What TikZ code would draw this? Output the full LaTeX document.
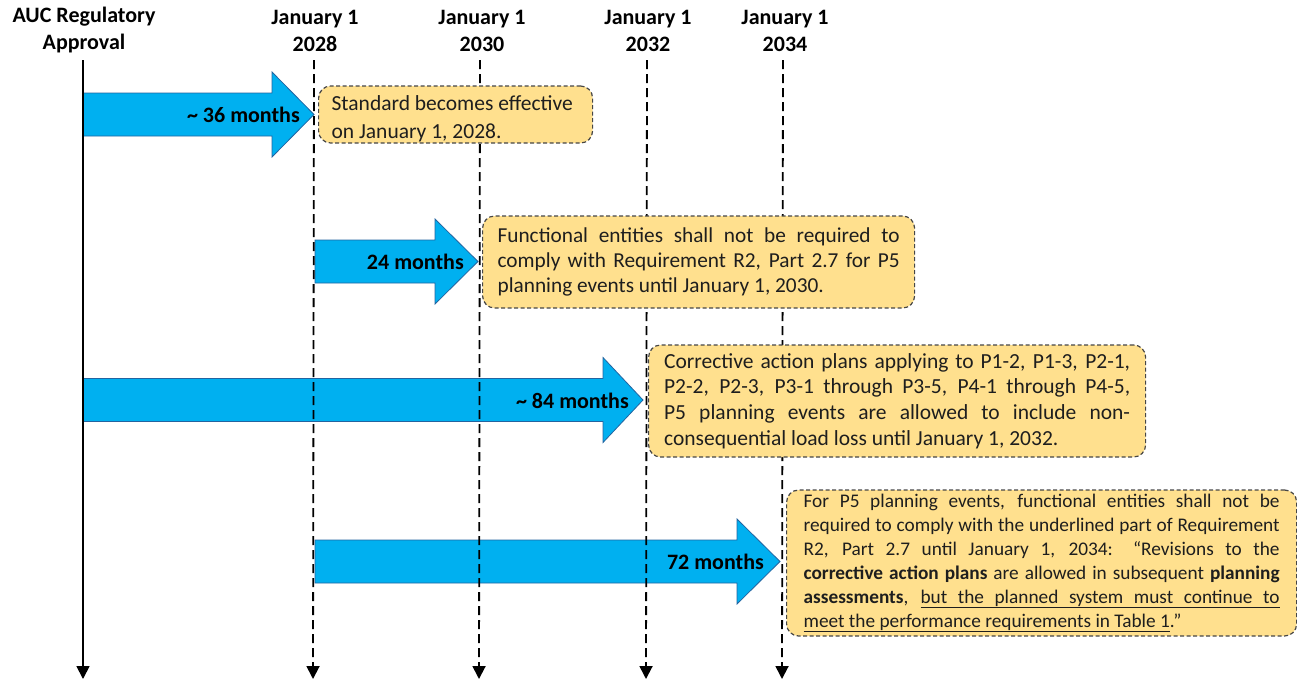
\documentclass[tikz,border=0pt]{standalone}
\usepackage{fontspec}
\setmainfont{Carlito}
\usetikzlibrary{arrows.meta}
\definecolor{arrowblue}{RGB}{0,176,240}
\definecolor{arrowedge}{RGB}{35,100,160}
\definecolor{boxfill}{RGB}{255,224,142}
\definecolor{boxedge}{RGB}{70,70,70}
\definecolor{txt}{RGB}{30,30,30}
\newcommand\bluearrow[4]{%
  \path[barrow] (#1,#4-21.5) -- (#2,#4-21.5) -- (#2,#4-42.5) -- (#3,#4)
    -- (#2,#4+42.5) -- (#2,#4+21.5) -- (#1,#4+21.5) -- cycle;}
\newcommand\ulw[1]{\setbox0\hbox{#1}\rlap{\vrule height -3pt depth 4pt width \wd0}\box0}
\newcommand\uls{\leaders\vrule height -3pt depth 4pt\hskip\fontdimen2\font plus\fontdimen3\font minus\fontdimen4\font\relax}
\begin{document}
\begin{tikzpicture}[x=1pt,y=-1pt,
  hdr/.style={font=\fontsize{22}{27}\selectfont\bfseries, align=center, inner sep=0pt},
  vline/.style={line width=1.8pt, -{Triangle[length=13pt,width=13pt]}},
  dline/.style={vline, dash pattern=on 9pt off 5pt},
  barrow/.style={fill=arrowblue, draw=arrowedge, line width=0.8pt, line join=miter},
  mlabel/.style={font=\fontsize{22}{26}\selectfont\bfseries, anchor=east, inner sep=0pt},
  note/.style={fill=boxfill, draw=boxedge, line width=1.2pt, dash pattern=on 4pt off 2.5pt,
    rounded corners=12pt, align=justify, text=txt, anchor=west, inner ysep=0pt}
]
\useasboundingbox (0,0) rectangle (1297,681);

% blue duration arrows
\bluearrow{83}{272}{314}{114.5}
\bluearrow{315}{435}{478}{261.5}
\bluearrow{83}{603}{643}{400}
\bluearrow{315}{737}{780}{561.5}

% time lines
\coordinate (t0) at (83,60);  \coordinate (b0) at (83,679);
\coordinate (t1) at (314,60); \coordinate (b1) at (313,679);
\coordinate (t2) at (480,60); \coordinate (b2) at (479,679);
\coordinate (t3) at (647,60); \coordinate (b3) at (646,679);
\coordinate (t4) at (783,60); \coordinate (b4) at (782,679);
\draw[vline] (t0) -- (b0);
\draw[dline] (t1) -- (b1);
\draw[dline] (t2) -- (b2);
\draw[dline] (t3) -- (b3);
\draw[dline] (t4) -- (b4);

% headers
\node[hdr] (h0) at (84,30.5) {AUC Regulatory\\Approval};
\node[hdr] (h1) at (315,30.5) {January 1\\2028};
\node[hdr] (h2) at (482,30.5) {January 1\\2030};
\node[hdr] (h3) at (648,30.5) {January 1\\2032};
\node[hdr] (h4) at (785,30.5) {January 1\\2034};

% arrow labels
\node[mlabel] (l1) at (300,114.5) {\textasciitilde\ 36 months};
\node[mlabel] (l2) at (464,262) {24 months};
\node[mlabel] (l3) at (629,401) {\textasciitilde\ 84 months};
\node[mlabel] (l4) at (764,561.5) {72 months};

% notes
\node[note, text width=248pt, inner xsep=13pt, minimum height=57pt,
  font=\fontsize{21.5}{28}\selectfont] (n1) at (318,114.5)
  {\rule{0pt}{24pt}Standard becomes effective\\on January 1, 2028.};
\node[note, text width=402pt, inner xsep=15pt, minimum height=92pt,
  font=\fontsize{21.3}{25}\selectfont] (n2) at (482,262)
  {Functional entities shall not be required to\linebreak
   comply with Requirement R2, Part 2.7 for P5\linebreak
   planning events until January 1, 2030.};
\node[note, text width=466pt, inner xsep=15.5pt, minimum height=112pt,
  font=\fontsize{21.5}{25.7}\selectfont] (n3) at (648,401)
  {Corrective action plans applying to P1-2, P1-3, P2-1,\linebreak
   P2-2, P2-3, P3-1 through P3-5, P4-1 through P4-5,\linebreak
   P5 planning events are allowed to include non-\linebreak
   consequential load loss until January 1, 2032.};
\node[note, text width=476pt, inner xsep=17pt, minimum height=146pt,
  font=\fontsize{19.3}{24}\selectfont] (n4) at (786,563)
  {For P5 planning events, functional entities shall not be\linebreak
   required to comply with the underlined part of Requirement\linebreak
   R2, Part 2.7 until January 1, 2034: “Revisions to the\linebreak
   \textbf{corrective action plans} are allowed in subsequent \textbf{planning}\linebreak
   \textbf{assessments}, \ulw{but}\uls\ulw{the}\uls\ulw{planned}\uls\ulw{system}\uls\ulw{must}\uls\ulw{continue}\uls\ulw{to}\linebreak
   \ulw{meet}\uls\ulw{the}\uls\ulw{performance}\uls\ulw{requirements}\uls\ulw{in}\uls\ulw{Table}\uls\ulw{1}.”};
\end{tikzpicture}
\end{document}
